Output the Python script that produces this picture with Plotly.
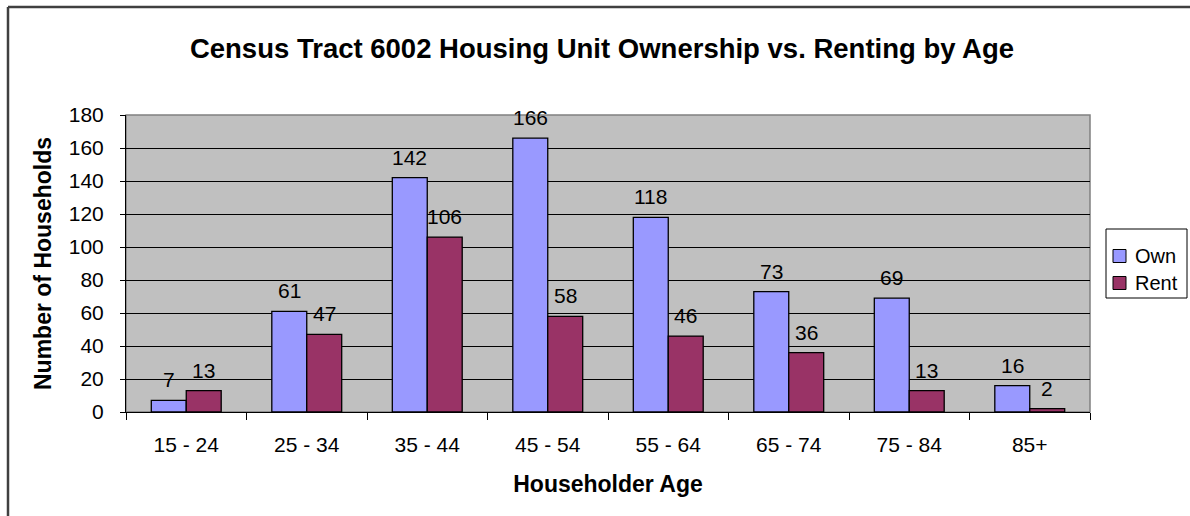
import plotly.graph_objects as go

categories = ["15 - 24", "25 - 34", "35 - 44", "45 - 54", "55 - 64", "65 - 74", "75 - 84", "85+"]
own = [7, 61, 142, 166, 118, 73, 69, 16]
rent = [13, 47, 106, 58, 46, 36, 13, 2]
y_ticks = [0, 20, 40, 60, 80, 100, 120, 140, 160, 180]
series_names = ["Own", "Rent"]
series_colors = ["#9999FF", "#993366"]

FONT = "Liberation Sans, Arial, sans-serif"

L, R, T, B = 126, 100, 115, 104
W, H = 1190, 516
pw = W - L - R
ph = H - T - B

def px(x):
    return (x - L) / pw

def py(y):
    return (H - B - y) / ph

fig = go.Figure()
for name, vals, col in zip(series_names, [own, rent], series_colors):
    fig.add_trace(go.Bar(
        name=name, x=categories, y=vals,
        marker=dict(color=col, line=dict(color="#000000", width=1.3)),
        showlegend=False,
    ))

# data labels above each bar (positioned by the data values)
bar_px = pw / len(categories) * (1 - 0.42) / 2
for k, vals in enumerate([own, rent]):
    shift = -bar_px / 2 if k == 0 else bar_px / 2
    for c, v in zip(categories, vals):
        fig.add_annotation(
            x=c, y=v, xref="x", yref="y", text=str(v), showarrow=False,
            xanchor="center", yanchor="bottom", xshift=shift, yshift=7,
            font=dict(family=FONT, size=21, color="#000000"),
        )

fig.update_layout(
    width=W, height=H,
    margin=dict(l=L, r=R, t=T, b=B, autoexpand=False),
    paper_bgcolor="#FFFFFF",
    plot_bgcolor="#C0C0C0",
    barmode="group",
    bargap=0.42,
    bargroupgap=0,
    font=dict(family=FONT, size=20, color="#000000"),
    title=dict(
        text="<b>Census Tract 6002 Housing Unit Ownership vs. Renting by Age</b>",
        font=dict(family=FONT, size=27.5, color="#000000"),
        x=602 / W, xref="container", xanchor="center",
        y=1 - 48 / H, yref="container", yanchor="middle",
    ),
    showlegend=False,
)

fig.update_xaxes(
    type="category",
    tickson="boundaries", ticks="outside", ticklen=7, tickcolor="#000000",
    showline=True, linecolor="#000000", linewidth=1,
    showgrid=False, zeroline=False,
    tickfont=dict(family=FONT, size=21, color="#000000"),
    ticklabelstandoff=14,
    title=dict(text="<b>Householder Age</b>", font=dict(family=FONT, size=23, color="#000000"), standoff=20),
    range=[-0.5, 7.5],
)
fig.update_yaxes(
    range=[0, 180], tickvals=y_ticks, ticktext=[str(v) for v in y_ticks],
    ticks="outside", ticklen=5, tickcolor="#000000",
    showline=True, linecolor="#000000", linewidth=1,
    showgrid=True, gridcolor="#000000", gridwidth=1, zeroline=False,
    tickfont=dict(family=FONT, size=21, color="#000000"),
    ticklabelstandoff=12,
    title=dict(text="<b>Number of Households</b>", font=dict(family=FONT, size=23, color="#000000"), standoff=10),
)

# plot area border (gray on top/right)
fig.add_shape(type="rect", xref="paper", yref="paper", x0=0, y0=0, x1=1, y1=1,
              line=dict(color="#808080", width=1.5), layer="below")
# outer chart border (left and top visible)
fig.add_shape(type="line", xref="paper", yref="paper",
              x0=px(8), y0=py(7), x1=px(1200), y1=py(7),
              line=dict(color="#404040", width=2.5))
fig.add_shape(type="line", xref="paper", yref="paper",
              x0=px(8), y0=py(7), x1=px(8), y1=py(530),
              line=dict(color="#404040", width=2.5))

# legend box (drawn to match the original compact legend)
fig.add_shape(type="rect", xref="paper", yref="paper",
              x0=px(1106), y0=py(229), x1=px(1187), y1=py(298),
              line=dict(color="#000000", width=1), fillcolor="#FFFFFF")
legend_rows = [256, 283]
for name, col, yc in zip(series_names, series_colors, legend_rows):
    fig.add_shape(type="rect", xref="paper", yref="paper",
                  x0=px(1113), y0=py(yc + 6.5), x1=px(1126), y1=py(yc - 6.5),
                  line=dict(color="#000000", width=1), fillcolor=col)
    fig.add_annotation(x=px(1133), y=py(yc), xref="paper", yref="paper",
                       text=name, showarrow=False, xanchor="left", yanchor="middle",
                       font=dict(family=FONT, size=20, color="#000000"))

fig.write_html("out.html", config={"displayModeBar": False},
               post_script="document.body.style.margin='0';")
